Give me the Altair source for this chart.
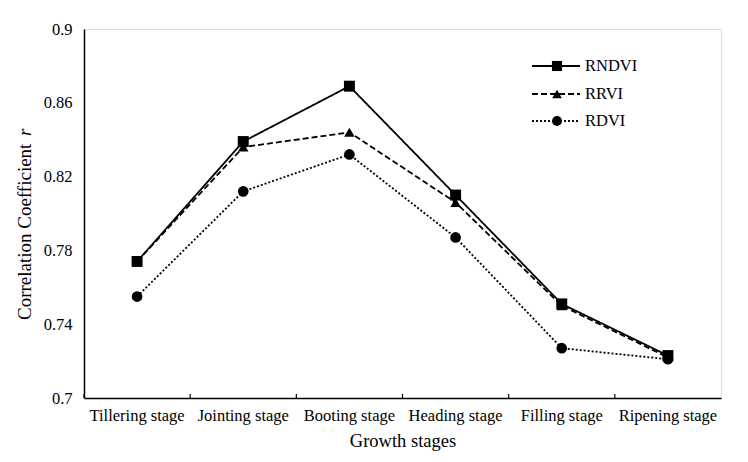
import altair as alt
import pandas as pd

stages = ["Tillering stage", "Jointing stage", "Booting stage", "Heading stage",
          "Filling stage", "Ripening stage"]
rndvi = [0.774, 0.839, 0.869, 0.810, 0.751, 0.723]
rrvi = [0.774, 0.836, 0.844, 0.806, 0.750, 0.722]
rdvi = [0.755, 0.812, 0.832, 0.787, 0.727, 0.721]
series_names = ["RNDVI", "RRVI", "RDVI"]
series_values = [rndvi, rrvi, rdvi]
y_ticks = [0.7, 0.74, 0.78, 0.82, 0.86, 0.9]

styles = {
    "RNDVI": {"dash": [1, 0], "shape": "square", "size": 120},
    "RRVI": {"dash": [6, 3], "shape": "triangle-up", "size": 110},
    "RDVI": {"dash": [2, 2], "shape": "circle", "size": 115},
}

W, H = 637, 369
FONT = "Liberation Serif"

x_enc = alt.X("stage:N", sort=stages,
              scale=alt.Scale(paddingInner=0, paddingOuter=0),
              axis=alt.Axis(title="Growth stages", titleFontSize=18.5, titleFont=FONT,
                            titleFontWeight="normal", titleColor="black",
                            labelFont=FONT, labelFontSize=16.5, labelColor="black",
                            labelAngle=0, labelPadding=9, ticks=False,
                            domainColor="black", domainWidth=1.5, titlePadding=8))
y_scale = alt.Scale(domain=[0.7, 0.9], nice=False, zero=False)
y_axis = alt.Axis(title=None, values=y_ticks, format=".2~f", labelFont=FONT,
                  labelFontSize=16.5, labelColor="black", ticks=False, labelPadding=12,
                  grid=False, domainColor="black", domainWidth=1.5)

layers = []
for name, vals in zip(series_names, series_values):
    df = pd.DataFrame({"stage": stages, "value": vals, "series": name})
    st = styles[name]
    base = alt.Chart(df)
    line = base.mark_line(color="black", strokeWidth=1.8, strokeDash=st["dash"]).encode(
        x=x_enc, y=alt.Y("value:Q", scale=y_scale, axis=y_axis))
    pts = base.mark_point(filled=True, color="black", shape=st["shape"], size=st["size"],
                          opacity=1).encode(
        x=alt.X("stage:N", sort=stages), y=alt.Y("value:Q", scale=y_scale))
    layers += [line, pts]

# inward ticks at category boundaries on x axis
tick_df = pd.DataFrame({"stage": stages})
ticks = alt.Chart(tick_df).mark_rule(color="black", strokeWidth=1.2).encode(
    x=alt.X("stage:N", sort=stages, bandPosition=0),
    y=alt.value(H - 4), y2=alt.value(H))
layers.append(ticks)

# custom legend
leg_y = [37, 65, 92]
for name, ly in zip(series_names, leg_y):
    st = styles[name]
    ldf = pd.DataFrame({"label": [name]})
    lb = alt.Chart(ldf)
    layers.append(lb.mark_rule(color="black", strokeWidth=1.8, strokeDash=st["dash"]).encode(
        x=alt.value(448), x2=alt.value(496), y=alt.value(ly)))
    layers.append(lb.mark_point(filled=True, color="black", shape=st["shape"],
                                size=st["size"] * 0.85, opacity=1).encode(
        x=alt.value(473), y=alt.value(ly)))
    layers.append(lb.mark_text(font=FONT, fontSize=16.5, align="left", baseline="middle",
                               color="black").encode(
        x=alt.value(501), y=alt.value(ly), text="label:N"))

# y axis title with italic r
tdf = pd.DataFrame({"t": ["Correlation Coefficient"]})
layers.append(alt.Chart(tdf).mark_text(font=FONT, fontSize=19, angle=270, align="left",
                                        baseline="middle", color="black").encode(
    x=alt.value(-59), y=alt.value(291), text="t:N"))
rdf = pd.DataFrame({"t": ["r"]})
layers.append(alt.Chart(rdf).mark_text(font=FONT, fontSize=19, angle=270, align="left",
                                        baseline="middle", color="black",
                                        fontStyle="italic").encode(
    x=alt.value(-59), y=alt.value(107), text="t:N"))

chart = alt.layer(*layers).properties(
    width=W, height=H,
    autosize=alt.AutoSizeParams(type="none"),
    padding={"left": 76, "top": 21, "right": 19, "bottom": 56},
).configure_view(stroke="black", strokeWidth=1.5).configure(background="white")

chart.save("out.html", embed_options={"renderer": "svg", "actions": False})
